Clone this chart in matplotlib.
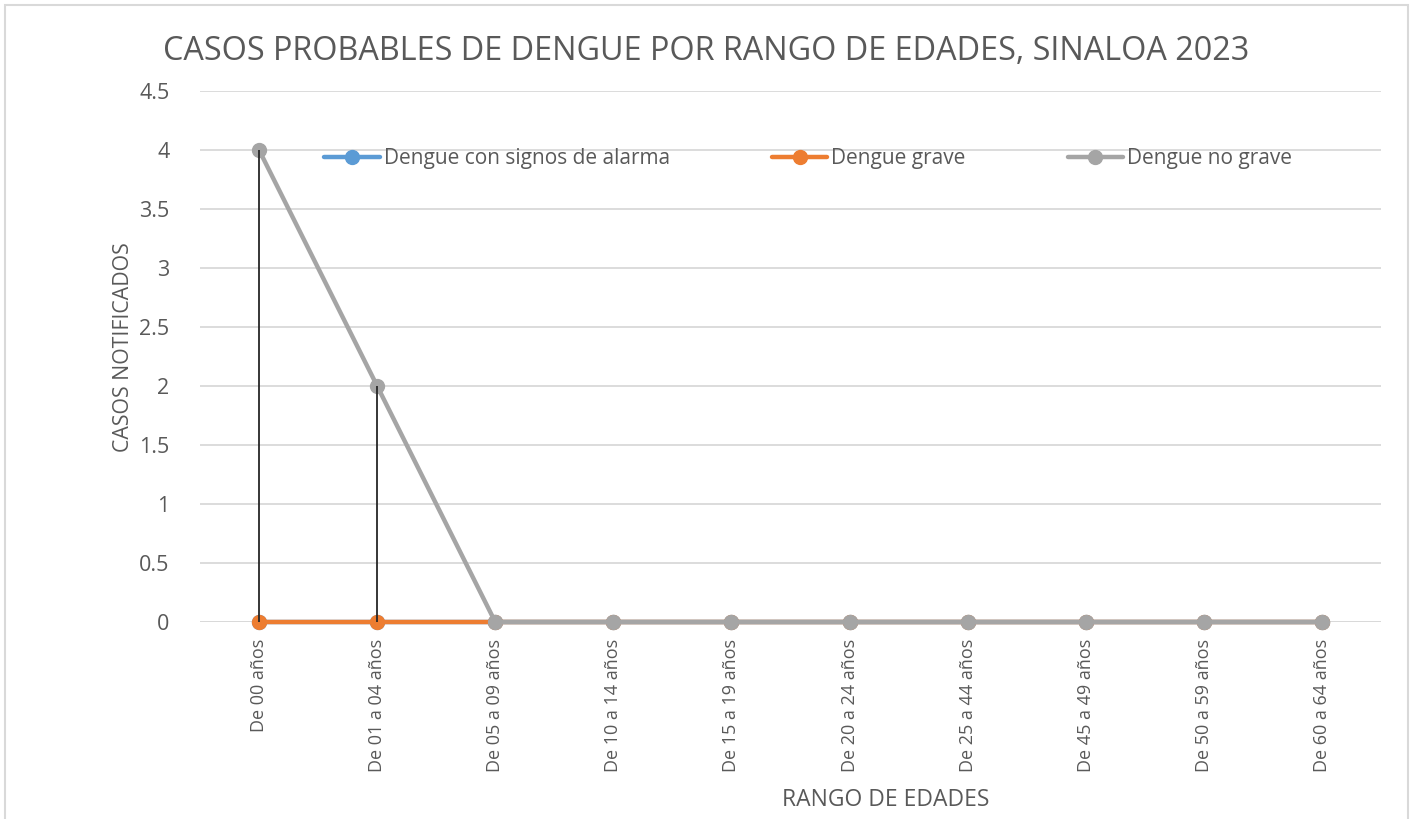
import numpy as np
import matplotlib.pyplot as plt
from matplotlib.patches import Rectangle

plt.rcParams['font.family'] = ['Open Sans', 'DejaVu Sans']

categories = ['De 00 años', 'De 01 a 04 años', 'De 05 a 09 años', 'De 10 a 14 años',
              'De 15 a 19 años', 'De 20 a 24 años', 'De 25 a 44 años', 'De 45 a 49 años',
              'De 50 a 59 años', 'De 60 a 64 años']
con_alarma = [0, 0, 0, 0, 0, 0, 0, 0, 0, 0]
grave = [0, 0, 0, 0, 0, 0, 0, 0, 0, 0]
no_grave = [4, 2, 0, 0, 0, 0, 0, 0, 0, 0]

series = [
    ('Dengue con signos de alarma', con_alarma, '#5B9BD5'),
    ('Dengue grave', grave, '#ED7D31'),
    ('Dengue no grave', no_grave, '#A5A5A5'),
]

text_color = '#595959'

fig = plt.figure(figsize=(14.12, 8.19), dpi=100)
ax = fig.add_axes([200 / 1412, 1 - 622 / 819, 1181 / 1412, 531 / 819])

x = np.arange(len(categories))
for i, (name, vals, color) in enumerate(series):
    ax.plot(x, vals, color=color, lw=3.2, marker='o', markersize=10,
            label=name, zorder=3 + i, solid_capstyle='round', clip_on=False)

# drop lines (Excel style) from the highest point to the axis
top = np.max([s[1] for s in series], axis=0)
ax.vlines(x, 0, top, color='#262626', lw=1.3, zorder=10, clip_on=False)

ax.set_xlim(-0.5, len(categories) - 0.5)
ax.set_ylim(0, 4.5)
ax.set_yticks(np.arange(0, 4.51, 0.5))
ax.set_yticklabels(['0', '0.5', '1', '1.5', '2', '2.5', '3', '3.5', '4', '4.5'])
ax.set_xticks(x)
ax.set_xticklabels(categories, rotation=90)
ax.tick_params(length=0, labelcolor=text_color)
ax.tick_params(axis='y', labelsize=15.5, pad=22)
ax.tick_params(axis='x', labelsize=13, pad=12)
ax.grid(axis='y', color='#D9D9D9', lw=1.3)
ax.set_axisbelow(True)
for sp in ax.spines.values():
    sp.set_visible(False)
ax.axhline(0, color='#D9D9D9', lw=1.3, zorder=1)

ax.set_ylabel('CASOS NOTIFICADOS', fontsize=15.3, color=text_color, va='center')
ax.yaxis.set_label_coords(-0.065, 0.518)
ax.set_xlabel('RANGO DE EDADES', fontsize=16.5, color=text_color, va='center')
ax.xaxis.set_label_coords(0.581, -0.335)
fig.text(706 / 1412, 1 - 52 / 819, 'CASOS PROBABLES DE DENGUE POR RANGO DE EDADES, SINALOA 2023',
         ha='center', va='center', fontsize=23.3, color=text_color)

ax.legend(loc='center', bbox_to_anchor=(0.515, 0.872), ncol=3, frameon=False,
          fontsize=15, labelcolor=text_color, handlelength=2.65,
          handletextpad=0.2, columnspacing=4.9)

# chart area border
fig.patches.append(Rectangle((5 / 1412, -0.05), 1403 / 1412, 1.05 - 5 / 819,
                             transform=fig.transFigure, fill=False,
                             edgecolor='#D9D9D9', lw=1.5))

fig.savefig('out.png', dpi=100)
